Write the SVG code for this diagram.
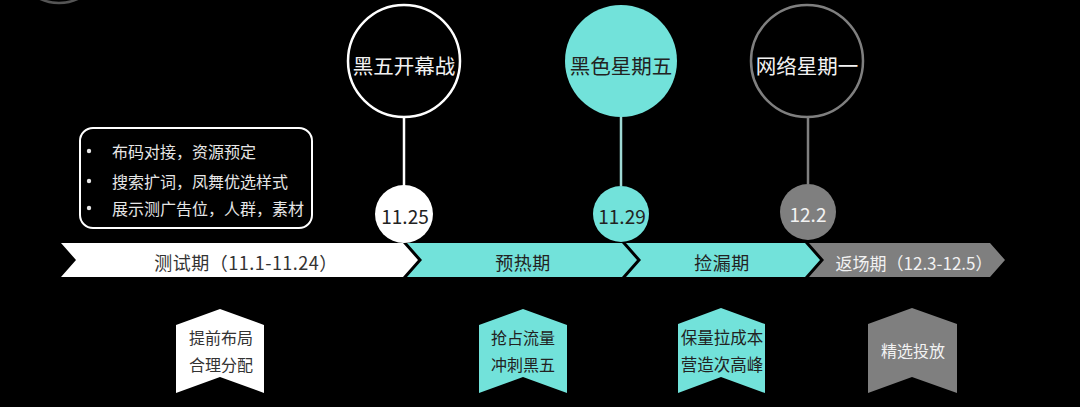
<svg xmlns="http://www.w3.org/2000/svg" width="1080" height="407" viewBox="0 0 1080 407">
<style>
text{font-family:"Noto Sans CJK SC","Noto Sans",sans-serif;text-anchor:middle;dominant-baseline:central}
.big{font-size:20.5px}
.mid{font-size:18px;letter-spacing:0.5px}
.sm{font-size:16px}
.num{font-size:19px}
.w{fill:#ffffff}
.cy{fill:#72e2da}
.gr{fill:#7f7f7f}
.dk{fill:#222222}
.lt{fill:#f2f2f2}
</style>
<rect width="1080" height="407" fill="#000"/>
<circle cx="59" cy="-41" r="44" fill="none" stroke="#555" stroke-width="2.5"/>
<g id="connectors">
<line x1="404" y1="117" x2="404" y2="186" stroke="#ffffff" stroke-width="2.5"/>
<line x1="621" y1="117" x2="621" y2="186" stroke="#9fd9d5" stroke-width="2.5"/>
<line x1="808" y1="117" x2="808" y2="184" stroke="#7f7f7f" stroke-width="2.5"/>
</g>
<g id="band-test">
<polygon class="w" points="61,243 403,243 418,260 403,277 61,277 76,260"/>
<text class="mid" x="246" y="262" fill="#333">测试期（11.1-11.24）</text>
</g>
<g id="band-warm">
<polygon class="cy" points="407,243 622,243 637,260 622,277 407,277 422,260"/>
<text class="mid dk" x="523" y="262">预热期</text>
</g>
<g id="band-pick">
<polygon class="cy" points="626,243 805,243 820,260 805,277 626,277 641,260"/>
<text class="mid dk" x="722" y="262">捡漏期</text>
</g>
<g id="band-return">
<polygon class="gr" points="809,243 990,243 1005,260 990,277 809,277 824,260"/>
<text class="mid lt" x="914" y="262" style="font-size:17px;letter-spacing:0px">返场期（12.3-12.5）</text>
</g>
<g id="event-1">
<circle cx="404" cy="61" r="56" fill="#000" stroke="#fff" stroke-width="2.5"/>
<text class="big lt" x="404" y="65">黑五开幕战</text>
</g>
<g id="event-2">
<circle class="cy" cx="621" cy="61" r="56"/>
<text class="big dk" x="621" y="65">黑色星期五</text>
</g>
<g id="event-3">
<circle cx="807" cy="61" r="56" fill="#000" stroke="#7f7f7f" stroke-width="2.5"/>
<text class="big lt" x="807" y="65">网络星期一</text>
</g>
<g id="date-1">
<circle class="w" cx="404" cy="214" r="29"/>
<text class="num" x="405" y="215" fill="#222">11.25</text>
</g>
<g id="date-2">
<circle class="cy" cx="621" cy="214" r="28"/>
<text class="num" x="622" y="215" fill="#222">11.29</text>
</g>
<g id="date-3">
<circle class="gr" cx="808" cy="212" r="28"/>
<text class="num" x="808" y="213" fill="#f2f2f2">12.2</text>
</g>
<g id="test-notes">
<rect x="80" y="128" width="232" height="100" rx="13" fill="#000" stroke="#fff" stroke-width="2"/>
<g fill="#e6e6e6">
<circle cx="89" cy="151" r="2.2"/>
<circle cx="89" cy="181" r="2.2"/>
<circle cx="89" cy="208" r="2.2"/>
</g>
<g class="sm" fill="#e6e6e6">
<text x="112" y="151" style="text-anchor:start">布码对接，资源预定</text>
<text x="112" y="181" style="text-anchor:start">搜索扩词，凤舞优选样式</text>
<text x="112" y="208" style="text-anchor:start">展示测广告位，人群，素材</text>
</g>
</g>
<g id="tag-1">
<polygon class="w" points="176,325 220,309 264,325 264,393 220,377 176,393"/>
<text class="sm" x="221" y="337" fill="#333">提前布局</text>
<text class="sm" x="221" y="364" fill="#333">合理分配</text>
</g>
<g id="tag-2">
<polygon class="cy" points="479,325 523,309 567,325 567,393 523,377 479,393"/>
<text class="sm dk" x="523" y="337">抢占流量</text>
<text class="sm dk" x="523" y="364">冲刺黑五</text>
</g>
<g id="tag-3">
<polygon class="cy" points="678,324 721,308 765,324 765,393 721,377 678,393"/>
<text class="sm dk" x="722" y="337" style="font-size:16.5px">保量拉成本</text>
<text class="sm dk" x="722" y="364" style="font-size:16.5px">营造次高峰</text>
</g>
<g id="tag-4">
<polygon class="gr" points="868,324 912,308 957,324 957,393 912,377 868,393"/>
<text class="sm lt" x="913" y="350">精选投放</text>
</g>
</svg>
